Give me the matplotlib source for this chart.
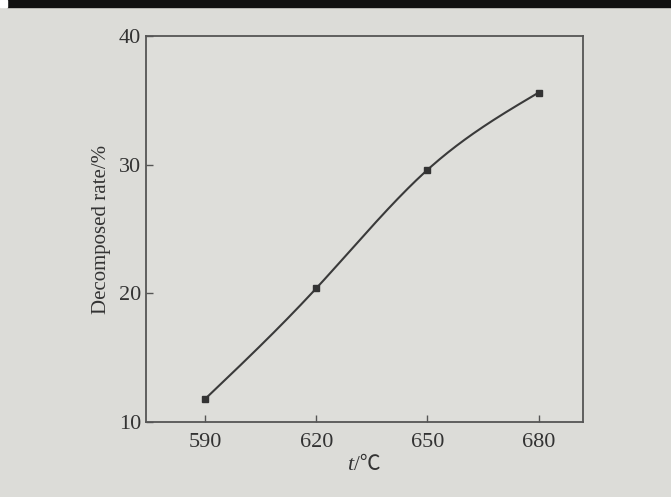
import numpy as np
import matplotlib.pyplot as plt
from matplotlib.patches import Rectangle

temps = [590, 620, 650, 680]
rates = [11.8, 20.4, 29.6, 35.6]
x_ticks = [590, 620, 650, 680]
y_ticks = [10, 20, 30, 40]


def natural_spline(x, y, n=200):
    # natural cubic spline, just to draw the smooth line through the points
    x = np.asarray(x, float)
    y = np.asarray(y, float)
    m = len(x)
    h = np.diff(x)
    A = np.zeros((m, m))
    b = np.zeros(m)
    A[0, 0] = A[-1, -1] = 1
    for i in range(1, m - 1):
        A[i, i - 1] = h[i - 1]
        A[i, i] = 2 * (h[i - 1] + h[i])
        A[i, i + 1] = h[i]
        b[i] = 6 * ((y[i + 1] - y[i]) / h[i] - (y[i] - y[i - 1]) / h[i - 1])
    M = np.linalg.solve(A, b)
    xs = np.linspace(x[0], x[-1], n)
    k = np.clip(np.searchsorted(x, xs) - 1, 0, m - 2)
    t1 = x[k + 1] - xs
    t0 = xs - x[k]
    hk = h[k]
    ys = (M[k] * t1 ** 3 + M[k + 1] * t0 ** 3) / (6 * hk) \
        + (y[k] / hk - M[k] * hk / 6) * t1 + (y[k + 1] / hk - M[k + 1] * hk / 6) * t0
    return xs, ys


plt.rcParams['font.family'] = ['Liberation Serif', 'Noto Sans CJK SC', 'DejaVu Serif']

fig = plt.figure(figsize=(6.71, 4.97), dpi=100)
fig.patch.set_facecolor('#dcdcd8')
fig.patches.append(Rectangle((0.01, 0.985), 0.99, 0.015, transform=fig.transFigure,
                             color='#111111', zorder=0))
fig.patches.append(Rectangle((0, 0.985), 0.01, 0.015, transform=fig.transFigure,
                             color='white', zorder=0))

ax = fig.add_axes([0.2176, 0.1509, 0.6513, 0.7767])
ax.set_facecolor('#dededa')

xs, ys = natural_spline(temps, rates)
ax.plot(xs, ys, color='#3a3a3a', lw=1.5)
ax.plot(temps, rates, 's', color='#333333', ms=5)

ax.set_xlim(574, 692)
ax.set_ylim(10, 40)
ax.set_xticks(x_ticks)
ax.set_yticks(y_ticks)
ax.tick_params(direction='in', length=5, width=1, colors='#555555',
               labelcolor='#333333', labelsize=16)
ax.tick_params(axis='x', pad=8)
for s in ax.spines.values():
    s.set_color('#555555')
    s.set_linewidth(1.3)

ax.set_ylabel('Decomposed rate/%', fontsize=15, color='#333333', labelpad=6)

# x label: italic t followed by /℃
ax.text(0.475, -0.112, 't', transform=ax.transAxes, ha='right', va='center',
        fontsize=16, style='italic', color='#333333')
ax.text(0.475, -0.112, '/℃', transform=ax.transAxes, ha='left', va='center',
        fontsize=15, color='#333333')

fig.savefig('out.png', dpi=100, facecolor=fig.get_facecolor())
